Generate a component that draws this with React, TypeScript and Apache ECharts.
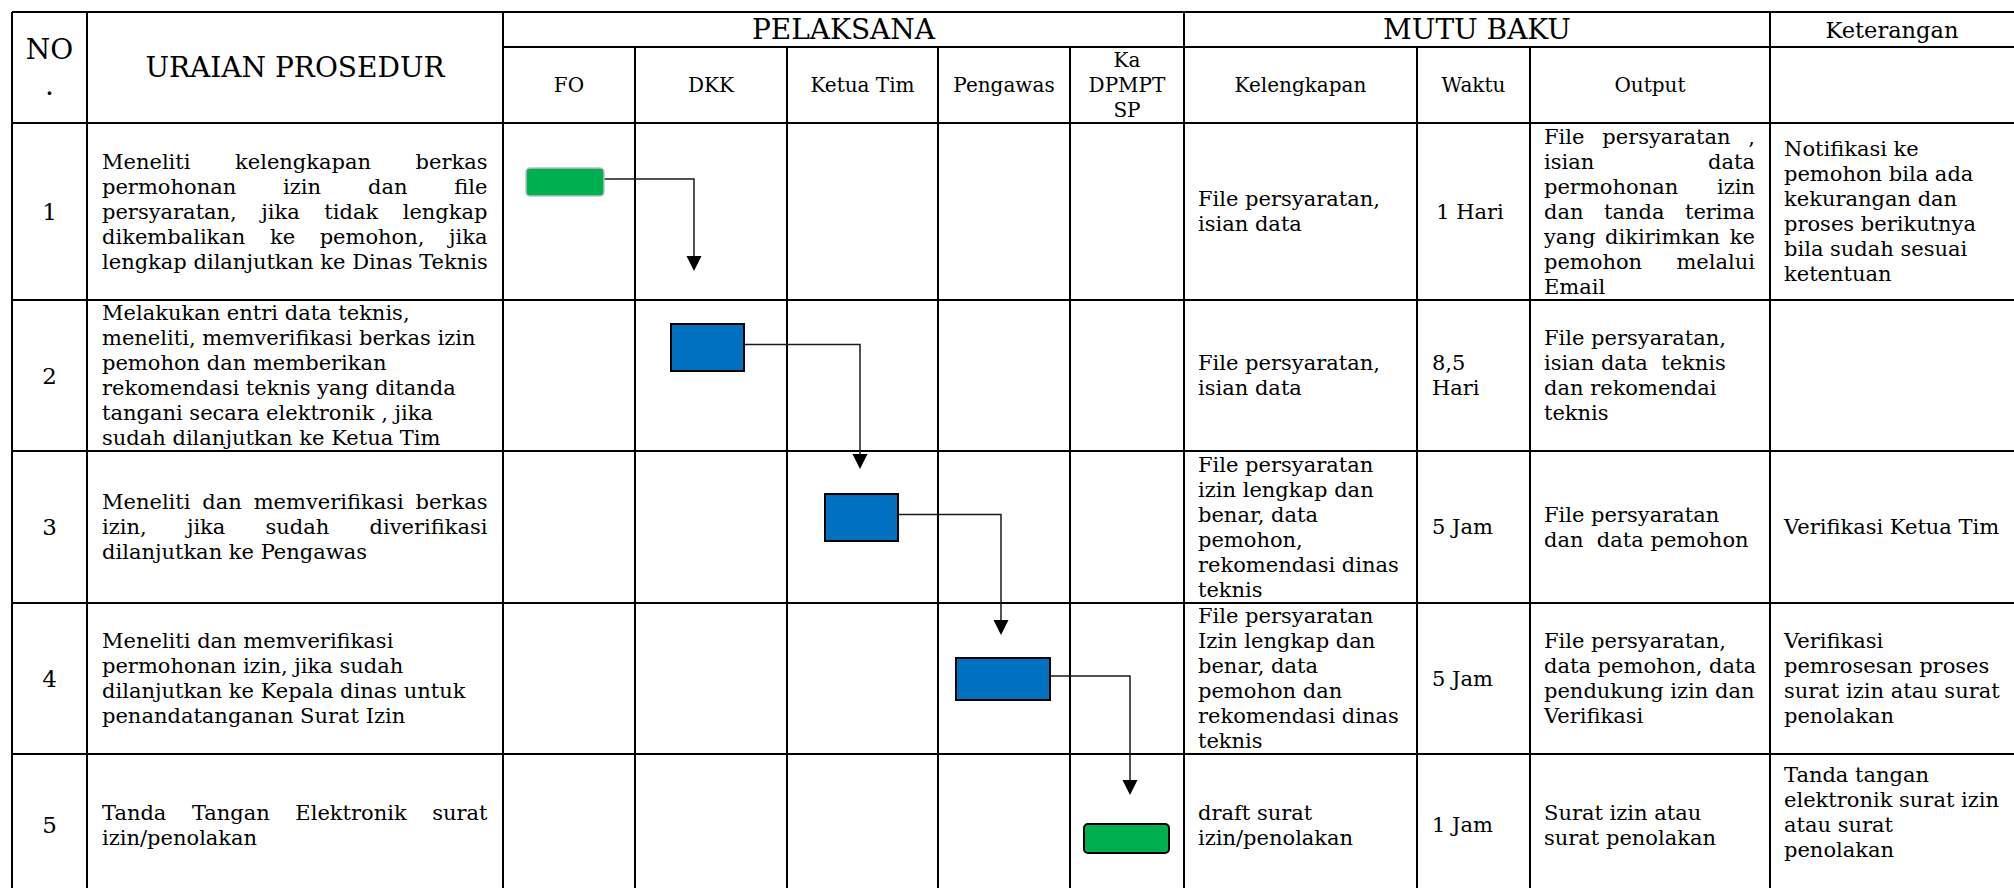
import React, { useEffect, useRef } from "react";
import * as echarts from "echarts";

const W = 2014;
const H = 888;

// ---------------- data ----------------
const groupHeaders = ["PELAKSANA", "MUTU BAKU", "Keterangan"];
const leadHeaders = ["NO\n.", "URAIAN PROSEDUR"];
const pelaksana = ["FO", "DKK", "Ketua Tim", "Pengawas", "Ka\nDPMPT\nSP"];
const mutuBaku = ["Kelengkapan", "Waktu", "Output"];
const stepNumbers = ["1", "2", "3", "4", "5"];
const procedures = [
  "Meneliti kelengkapan berkas\npermohonan izin dan file\npersyaratan, jika tidak lengkap\ndikembalikan ke pemohon, jika\nlengkap dilanjutkan ke Dinas Teknis",
  "Melakukan entri data teknis,\nmeneliti, memverifikasi berkas izin\npemohon dan memberikan\nrekomendasi teknis yang ditanda\ntangani secara elektronik , jika\nsudah dilanjutkan ke Ketua Tim",
  "Meneliti dan memverifikasi berkas\nizin, jika sudah diverifikasi\ndilanjutkan ke Pengawas",
  "Meneliti dan memverifikasi\npermohonan izin, jika sudah\ndilanjutkan ke Kepala dinas untuk\npenandatanganan Surat Izin",
  "Tanda Tangan Elektronik surat\nizin/penolakan",
];
const stepActor = [0, 1, 2, 3, 4];
const stepKind = ["terminator", "process", "process", "process", "terminator"];
const kelengkapan = [
  "File persyaratan,\nisian data",
  "File persyaratan,\nisian data",
  "File persyaratan\nizin lengkap dan\nbenar, data\npemohon,\nrekomendasi dinas\nteknis",
  "File persyaratan\nIzin lengkap dan\nbenar, data\npemohon dan\nrekomendasi dinas\nteknis",
  "draft surat\nizin/penolakan",
];
const waktu = ["1 Hari", "8,5\nHari", "5 Jam", "5 Jam", "1 Jam"];
const output = [
  "File persyaratan ,\nisian data\npermohonan izin\ndan tanda terima\nyang dikirimkan ke\npemohon melalui\nEmail",
  "File persyaratan,\nisian data  teknis\ndan rekomendai\nteknis",
  "File persyaratan\ndan  data pemohon",
  "File persyaratan,\ndata pemohon, data\npendukung izin dan\nVerifikasi",
  "Surat izin atau\nsurat penolakan",
];
const keterangan = [
  "Notifikasi ke\npemohon bila ada\nkekurangan dan\nproses berikutnya\nbila sudah sesuai\nketentuan",
  "",
  "Verifikasi Ketua Tim",
  "Verifikasi\npemrosesan proses\nsurat izin atau surat\npenolakan",
  "Tanda tangan\nelektronik surat izin\natau surat\npenolakan",
];

// ---------------- layout / style ----------------
const COL = [12, 87, 503, 635, 787, 938, 1070, 1184, 1417, 1530, 1770, 2014];
const ROW = [12, 47, 123, 300, 451, 603, 754, 896];
const FONT = '"DejaVu Serif", serif';
const LINE = 25;
const BODY = 21;
const SUB = 20;
const BIG = 28;
const JUSTIFY_PROC = [true, false, true, false, true];
const JUSTIFY_OUT = [true, false, false, false, false];
const WAKTU_ALIGN = ["center", "left", "left", "left", "left"];
const KET_DY = [0, 0, 0, 0, -13];
const BOX_W = [78, 73, 73, 94, 85];
const BOX_H = [28, 47, 47, 42, 29];
const BOX_DX = [-4, -3.5, -1, -1, -0.5];
const BOX_DY = [-29.5, -28, -9.5, 0.5, 13.5];
const CONN_DX = [-17, -2.5, -3, 3];
const ARROW_GAP = [53, 25, 23, 29];
const KIND_STYLE: Record<string, any> = {
  terminator: { fill: "#00B050", r: 4 },
  process: { fill: "#0070C0", r: 0 },
};
const BOX_STROKE = ["#BFBFBF", "#000", "#000", "#000", "#000"];

type Cell = {
  x0: number; x1: number; y0: number; y1: number;
  text: string; size: number; lh: number; align: string;
  padL: number; padR: number; justify: boolean; dy: number;
};

function buildCells(): Cell[] {
  const cells: Cell[] = [];
  const add = (c: Partial<Cell>) =>
    cells.push({ padL: 0, padR: 0, justify: false, dy: 0, align: "center", size: BODY, lh: LINE, text: "", x0: 0, x1: 0, y0: 0, y1: 0, ...c } as Cell);
  add({ x0: COL[0], x1: COL[1], y0: ROW[0], y1: ROW[2], text: leadHeaders[0], size: BIG, lh: 36 });
  add({ x0: COL[1], x1: COL[2], y0: ROW[0], y1: ROW[2], text: leadHeaders[1], size: BIG });
  add({ x0: COL[2], x1: COL[7], y0: ROW[0], y1: ROW[1], text: groupHeaders[0], size: BIG });
  add({ x0: COL[7], x1: COL[10], y0: ROW[0], y1: ROW[1], text: groupHeaders[1], size: BIG });
  add({ x0: COL[10], x1: COL[11], y0: ROW[0], y1: ROW[1], text: groupHeaders[2], size: 22.5 });
  pelaksana.forEach((t, i) => add({ x0: COL[2 + i], x1: COL[3 + i], y0: ROW[1], y1: ROW[2], text: t, size: SUB }));
  mutuBaku.forEach((t, i) => add({ x0: COL[7 + i], x1: COL[8 + i], y0: ROW[1], y1: ROW[2], text: t, size: SUB }));
  stepNumbers.forEach((n, r) => {
    const y0 = ROW[2 + r], y1 = ROW[3 + r];
    add({ x0: COL[0], x1: COL[1], y0, y1, text: n, size: 23 });
    add({ x0: COL[1], x1: COL[2], y0, y1, text: procedures[r], align: "left", padL: 15, padR: 15.5, justify: JUSTIFY_PROC[r] });
    add({ x0: COL[7], x1: COL[8], y0, y1, text: kelengkapan[r], align: "left", padL: 14 });
    add({ x0: COL[8], x1: COL[9], y0, y1, text: waktu[r], align: WAKTU_ALIGN[r], padL: 15, padR: 22 });
    add({ x0: COL[9], x1: COL[10], y0, y1, text: output[r], align: "left", padL: 14, padR: 15, justify: JUSTIFY_OUT[r] });
    if (keterangan[r]) add({ x0: COL[10], x1: COL[11], y0, y1, text: keterangan[r], align: "left", padL: 14, dy: KET_DY[r] });
  });
  return cells;
}

function buildSegments(): number[][] {
  const segs: number[][] = [];
  segs.push([COL[0], ROW[0], W, ROW[0]]);
  segs.push([COL[2], ROW[1], W, ROW[1]]);
  for (let k = 2; k <= 6; k++) segs.push([COL[0], ROW[k], W, ROW[k]]);
  [0, 1, 2, 7, 10].forEach((c) => segs.push([COL[c], ROW[0], COL[c], ROW[7]]));
  [3, 4, 5, 6, 8, 9].forEach((c) => segs.push([COL[c], ROW[1], COL[c], ROW[7]]));
  return segs;
}

let measureCtx: CanvasRenderingContext2D | null = null;
function measure(text: string, size: number): number {
  if (!measureCtx) measureCtx = document.createElement("canvas").getContext("2d");
  measureCtx!.font = `${size}px ${FONT}`;
  return measureCtx!.measureText(text).width;
}

function textEl(text: string, p: number[], size: number, align: string) {
  return {
    type: "text",
    style: {
      text, x: p[0], y: p[1], fill: "#000", fontSize: size, fontFamily: FONT,
      align, verticalAlign: "middle", textAlign: align, textVerticalAlign: "middle",
    },
  };
}

export default function App() {
  const ref = useRef<HTMLDivElement>(null);
  useEffect(() => {
    if (!ref.current) return;
    const chart = echarts.init(ref.current, null, { renderer: "svg" });
    const cells = buildCells();
    const segs = buildSegments();

    const renderLines = (params: any, api: any) => {
      const s = segs[params.dataIndex];
      const a = api.coord([s[0], s[1]]);
      const b = api.coord([s[2], s[3]]);
      return { type: "line", shape: { x1: a[0], y1: a[1], x2: b[0], y2: b[1] }, style: { stroke: "#000", lineWidth: 2 } };
    };

    const renderText = (params: any, api: any) => {
      const c = cells[params.dataIndex];
      const lines = c.text.split("\n");
      const n = lines.length;
      const left = c.x0 + c.padL;
      const right = c.x1 - c.padR;
      const cy = (c.y0 + c.y1) / 2 + c.dy;
      const children: any[] = [];
      lines.forEach((line, i) => {
        const ly = cy + (i - (n - 1) / 2) * c.lh;
        if (c.justify && i < n - 1) {
          const words = line.split(/\s+/).filter((w) => w.length);
          const widths = words.map((w) => measure(w, c.size));
          const total = widths.reduce((a, b) => a + b, 0);
          const gap = words.length > 1 ? (right - left - total) / (words.length - 1) : 0;
          let x = left;
          words.forEach((w, k) => {
            children.push(textEl(w, api.coord([x, ly]), c.size, "left"));
            x += widths[k] + gap;
          });
        } else {
          const x = c.align === "center" ? (left + right) / 2 : left;
          children.push(textEl(line, api.coord([x, ly]), c.size, c.align));
        }
      });
      return { type: "group", children };
    };

    const boxGeom = (i: number) => {
      const col = 2 + stepActor[i];
      const cx = (COL[col] + COL[col + 1]) / 2 + BOX_DX[i];
      const cy = (ROW[2 + i] + ROW[3 + i]) / 2 + BOX_DY[i];
      return { cx, cy, x0: cx - BOX_W[i] / 2, y0: cy - BOX_H[i] / 2, w: BOX_W[i], h: BOX_H[i] };
    };

    const renderFlow = (params: any, api: any) => {
      const i = params.dataIndex;
      const g = boxGeom(i);
      const ks = KIND_STYLE[stepKind[i]];
      const p0 = api.coord([g.x0, g.y0]);
      const p1 = api.coord([g.x0 + g.w, g.y0 + g.h]);
      const children: any[] = [
        {
          type: "rect",
          shape: { x: p0[0], y: p0[1], width: p1[0] - p0[0], height: p1[1] - p0[1], r: ks.r },
          style: { fill: ks.fill, stroke: BOX_STROKE[i], lineWidth: i === 0 ? 1.5 : 2 },
          z2: 5,
        },
      ];
      if (i < stepActor.length - 1) {
        const nx = boxGeom(i + 1);
        const ncol = 2 + stepActor[i + 1];
        const vx = (COL[ncol] + COL[ncol + 1]) / 2 + CONN_DX[i];
        const hy = g.cy - 3;
        const tip = nx.y0 - ARROW_GAP[i];
        const pts = [[g.x0 + g.w, hy], [vx, hy], [vx, tip - 14]].map((p) => api.coord(p));
        children.push({
          type: "polyline",
          shape: { points: pts },
          style: { stroke: "#1a1a1a", lineWidth: 1.5, fill: null },
          z2: 4,
        });
        const tri = [[vx - 7.5, tip - 15], [vx + 7.5, tip - 15], [vx, tip]].map((p) => api.coord(p));
        children.push({ type: "polygon", shape: { points: tri }, style: { fill: "#000" }, z2: 4 });
      }
      return { type: "group", children };
    };

    const option: any = {
      animation: false,
      backgroundColor: "#fff",
      grid: { left: 0, right: 0, top: 0, bottom: 0 },
      xAxis: { type: "value", min: 0, max: W, show: false },
      yAxis: { type: "value", min: 0, max: H, inverse: true, show: false },
      series: [
        {
          type: "custom", name: "grid", silent: true, clip: false,
          encode: { x: 0, y: 1 },
          data: segs.map((s, i) => [(s[0] + s[2]) / 2, (s[1] + s[3]) / 2, i]),
          renderItem: renderLines, z: 1,
        },
        {
          type: "custom", name: "flow", silent: true, clip: false,
          encode: { x: 0, y: 1 },
          data: stepActor.map((a, i) => { const g = boxGeom(i); return [g.cx, g.cy, a]; }),
          renderItem: renderFlow, z: 2,
        },
        {
          type: "custom", name: "text", silent: true, clip: false,
          encode: { x: 0, y: 1 },
          data: cells.map((c, i) => [(c.x0 + c.x1) / 2, (c.y0 + c.y1) / 2, i]),
          renderItem: renderText, z: 3,
        },
      ],
    };
    chart.setOption(option);
    return () => chart.dispose();
  }, []);
  return <div ref={ref} style={{ position: "fixed", left: 0, top: 0, width: W, height: H, background: "#fff" }} />;
}
